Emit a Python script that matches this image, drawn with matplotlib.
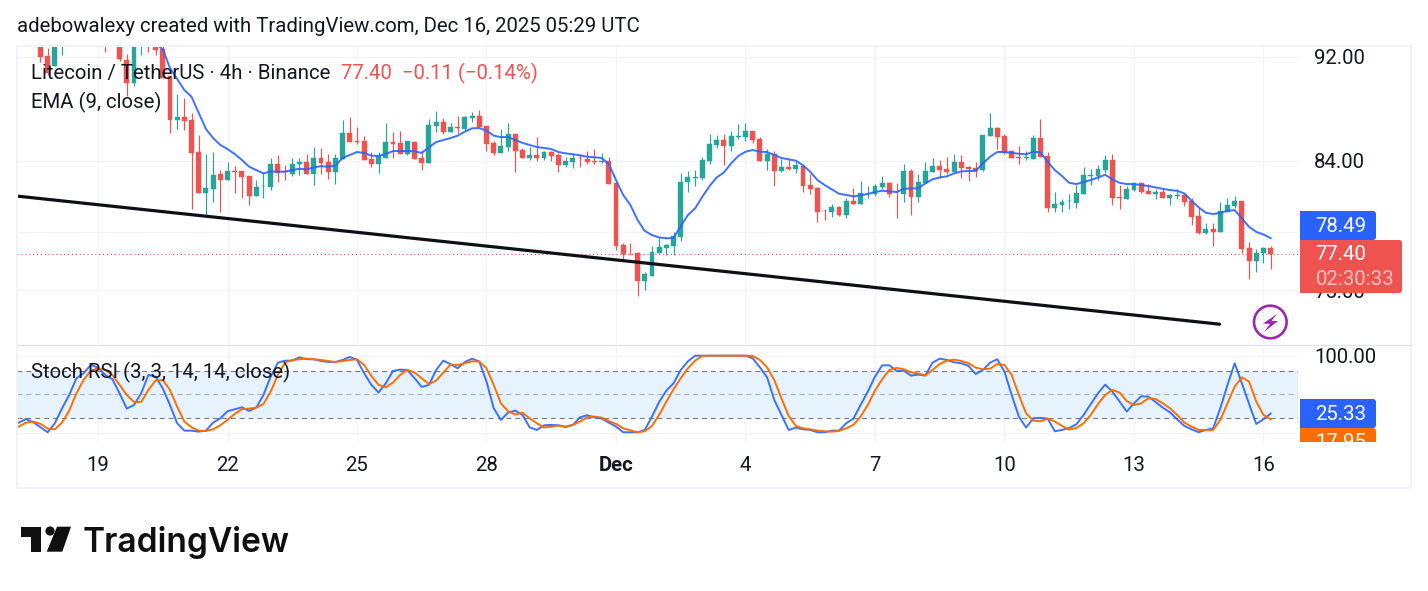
import numpy as np
import matplotlib
matplotlib.use("Agg")
import matplotlib.pyplot as plt
from matplotlib.patches import Rectangle, FancyBboxPatch, Polygon, Circle

plt.rcParams['font.family'] = ['Roboto', 'DejaVu Sans']

W, H = 1428, 591

# 4h candles, first bar is 8 bars before Nov 19 00:00
first_bar = -8
candle_open = [
    93.30, 92.04, 91.27, 93.20, 93.60, 93.90, 94.20, 94.10, 93.90, 93.80,
    93.60, 93.20, 91.72, 89.92, 92.95, 93.40, 93.00, 92.61, 90.45, 87.03,
    87.24, 87.03, 84.63, 81.67, 81.95, 83.01, 82.60, 83.23, 83.23, 82.87,
    81.45, 82.13, 82.10, 83.78, 83.20, 83.01, 83.72, 83.92, 83.01, 84.19,
    83.92, 83.16, 84.11, 86.04, 85.42, 85.44, 84.11, 83.72, 84.19, 85.37,
    85.30, 84.51, 85.37, 84.19, 83.81, 86.57, 86.88, 86.12, 86.50, 86.35,
    87.18, 87.34, 86.57, 85.30, 84.56, 85.00, 85.97, 84.78, 84.19, 84.41,
    84.19, 84.63, 84.41, 83.67, 83.89, 84.21, 84.11, 83.96, 83.92, 83.97,
    82.36, 78.01, 77.44, 77.47, 75.59, 75.93, 77.47, 77.80, 77.94, 78.56,
    82.44, 82.76, 82.73, 83.97, 85.15, 85.52, 85.08, 85.77, 85.74, 86.20,
    85.59, 83.97, 84.48, 83.23, 83.52, 83.37, 83.62, 82.22, 82.00, 80.39,
    80.30, 80.65, 80.09, 81.08, 80.87, 81.56, 81.58, 82.08, 82.36, 81.74,
    81.58, 83.23, 81.36, 82.36, 83.16, 83.59, 83.37, 83.16, 83.89, 83.52,
    83.45, 83.30, 85.82, 86.42, 85.82, 84.70, 84.26, 84.22, 84.11, 85.67,
    84.34, 80.58, 80.80, 81.06, 80.94, 81.58, 82.89, 82.87, 83.30, 84.04,
    81.36, 81.22, 81.86, 82.36, 81.79, 81.58, 81.72, 81.29, 81.46, 81.50,
    81.08, 80.02, 78.84, 79.11, 78.91, 80.30, 80.72, 81.08, 77.80, 76.93,
    77.47, 77.80,
]
candle_high = [
    94.00, 92.70, 94.00, 94.30, 94.40, 94.50, 94.60, 94.50, 94.40, 94.20,
    94.30, 93.80, 92.21, 93.70, 93.80, 93.80, 93.40, 93.20, 90.45, 89.00,
    88.72, 87.57, 85.90, 84.48, 84.60, 83.30, 83.89, 83.60, 83.23, 82.87,
    82.58, 83.08, 84.20, 84.42, 83.67, 84.20, 84.20, 84.48, 85.00, 84.93,
    84.48, 84.48, 87.03, 87.26, 86.50, 85.82, 84.63, 84.60, 86.80, 86.12,
    86.20, 85.44, 85.44, 84.78, 87.11, 87.72, 87.18, 86.80, 87.34, 87.34,
    87.65, 87.80, 86.57, 85.44, 86.35, 86.80, 85.97, 84.93, 85.00, 85.74,
    84.70, 84.70, 84.56, 84.26, 84.56, 84.48, 84.70, 84.85, 84.56, 84.26,
    82.44, 78.15, 78.15, 77.53, 76.19, 77.94, 78.49, 78.08, 78.91, 83.08,
    83.23, 83.30, 84.26, 85.97, 85.90, 85.97, 86.20, 86.73, 86.80, 86.20,
    85.74, 84.85, 84.70, 84.11, 84.11, 83.97, 83.62, 83.01, 82.08, 80.51,
    80.87, 80.72, 81.29, 82.00, 82.51, 82.15, 82.29, 82.87, 82.44, 82.36,
    83.74, 83.37, 83.01, 83.89, 84.19, 84.04, 84.26, 84.48, 84.41, 83.59,
    83.89, 85.90, 87.57, 86.50, 85.97, 84.78, 85.08, 84.70, 85.90, 87.11,
    84.63, 81.72, 81.22, 81.58, 82.22, 83.52, 83.37, 83.67, 84.41, 84.48,
    82.22, 82.15, 82.44, 82.44, 82.29, 81.93, 82.00, 81.58, 81.93, 81.58,
    81.29, 80.58, 79.53, 79.53, 81.01, 81.29, 81.43, 81.08, 78.22, 77.74,
    77.87, 77.94,
]
candle_low = [
    91.53, 90.50, 91.27, 92.13, 93.10, 93.40, 93.70, 93.60, 93.40, 92.37,
    93.00, 91.64, 88.90, 89.68, 92.12, 92.39, 92.12, 90.29, 86.07, 86.35,
    86.27, 80.53, 81.67, 80.09, 81.01, 80.32, 82.60, 81.67, 81.29, 80.80,
    81.45, 81.31, 81.86, 82.44, 82.58, 82.87, 82.94, 83.01, 82.22, 83.01,
    82.65, 82.29, 84.11, 85.39, 85.25, 84.06, 83.56, 83.10, 84.19, 84.19,
    84.51, 84.41, 84.14, 83.32, 83.81, 86.12, 85.97, 86.12, 86.04, 86.20,
    86.88, 86.50, 84.70, 84.41, 84.56, 84.70, 83.16, 84.19, 84.04, 83.97,
    84.04, 83.97, 83.16, 83.52, 83.45, 83.52, 83.74, 83.74, 83.82, 82.29,
    77.67, 76.93, 77.33, 74.61, 75.00, 75.93, 77.47, 77.33, 77.33, 78.29,
    81.72, 82.15, 82.58, 83.74, 84.93, 83.67, 84.70, 85.59, 85.44, 85.30,
    83.97, 83.30, 82.15, 83.16, 83.30, 83.08, 81.72, 81.58, 79.60, 79.74,
    79.95, 80.02, 79.88, 80.87, 80.87, 81.29, 81.43, 81.93, 81.36, 79.88,
    81.01, 80.09, 81.01, 82.36, 83.16, 82.73, 83.01, 83.16, 82.73, 82.51,
    82.80, 83.23, 85.82, 84.85, 84.48, 84.19, 83.74, 84.04, 84.11, 84.26,
    80.30, 80.30, 80.30, 80.51, 80.58, 81.58, 82.22, 82.58, 83.08, 80.80,
    80.51, 81.22, 81.79, 81.65, 81.58, 81.22, 81.29, 80.80, 81.22, 80.72,
    79.39, 78.77, 78.77, 77.94, 78.91, 80.30, 80.58, 77.47, 75.73, 76.19,
    76.80, 76.40,
]
candle_close = [
    92.00, 90.68, 93.60, 94.00, 93.40, 94.10, 93.90, 93.70, 93.50, 93.20,
    93.20, 91.78, 89.92, 93.40, 93.30, 93.00, 92.53, 90.31, 87.03, 87.24,
    86.98, 84.57, 81.67, 82.00, 82.97, 82.58, 83.23, 83.19, 82.80, 81.45,
    82.08, 82.17, 83.77, 83.10, 83.16, 83.77, 83.92, 83.01, 84.19, 83.82,
    83.16, 84.19, 86.04, 85.39, 85.38, 84.06, 83.72, 84.37, 85.37, 85.22,
    84.51, 85.44, 84.14, 83.81, 86.65, 86.88, 86.12, 86.50, 86.46, 87.26,
    87.34, 86.50, 85.22, 84.56, 85.08, 85.97, 84.70, 84.19, 84.41, 84.19,
    84.63, 84.34, 83.67, 83.97, 84.19, 84.17, 83.89, 83.92, 83.96, 82.29,
    77.94, 77.40, 77.40, 75.59, 76.06, 77.53, 77.87, 78.01, 78.63, 82.44,
    82.80, 82.80, 84.04, 85.22, 85.52, 85.08, 85.82, 85.81, 86.20, 85.52,
    83.97, 84.48, 83.23, 83.52, 83.37, 83.67, 82.15, 81.93, 80.30, 80.35,
    80.65, 80.09, 81.08, 80.87, 81.65, 81.60, 82.15, 82.36, 81.58, 81.70,
    83.23, 81.36, 82.44, 83.23, 83.59, 83.30, 83.16, 83.89, 83.45, 83.37,
    83.23, 85.90, 86.42, 85.74, 84.56, 84.19, 84.22, 84.26, 85.67, 84.26,
    80.61, 80.87, 81.01, 81.10, 81.65, 82.94, 82.93, 83.37, 84.04, 81.29,
    81.32, 81.93, 82.36, 81.72, 81.58, 81.72, 81.29, 81.50, 81.50, 81.01,
    79.95, 78.84, 79.11, 78.91, 80.37, 80.80, 81.08, 77.74, 76.93, 77.47,
    77.80, 77.40,
]

# EMA(9) starts where it comes into view
ema_first_bar = 8
ema_values = [
    93.00, 92.61, 91.08, 90.21, 89.34, 88.82, 87.57, 86.35, 85.67, 85.15,
    84.85, 84.48, 84.04, 83.55, 83.30, 83.06, 83.21, 83.18, 83.19, 83.30,
    83.40, 83.35, 83.50, 83.59, 83.55, 83.63, 84.19, 84.41, 84.63, 84.56,
    84.36, 84.34, 84.48, 84.70, 84.70, 84.70, 84.68, 84.56, 84.98, 85.37,
    85.52, 85.67, 85.85, 86.15, 86.40, 86.42, 86.22, 85.85, 85.74, 85.74,
    85.52, 85.31, 85.15, 85.00, 84.93, 84.85, 84.63, 84.53, 84.46, 84.38,
    84.28, 84.24, 84.19, 83.74, 82.58, 81.51, 80.80, 79.74, 78.99, 78.70,
    78.54, 78.48, 78.50, 79.32, 80.09, 80.56, 81.38, 82.15, 82.77, 83.13,
    83.79, 84.34, 84.65, 84.78, 84.65, 84.63, 84.41, 84.19, 84.09, 83.99,
    83.65, 83.18, 82.58, 82.22, 81.91, 81.60, 81.51, 81.41, 81.48, 81.58,
    81.72, 81.81, 81.77, 81.72, 81.95, 81.98, 81.98, 82.34, 82.63, 82.77,
    82.85, 83.06, 83.21, 83.23, 83.25, 83.79, 84.28, 84.63, 84.63, 84.57,
    84.50, 84.46, 84.65, 84.60, 83.91, 83.30, 82.87, 82.38, 82.29, 82.44,
    82.58, 82.77, 82.96, 82.63, 82.38, 82.29, 82.29, 82.22, 82.15, 82.05,
    81.95, 81.86, 81.81, 81.62, 81.10, 80.63, 80.25, 80.16, 80.25, 80.39,
    80.44, 79.86, 79.27, 78.92, 78.74, 78.49,
]

# Stoch RSI, both lines run over the whole visible range
stoch_first_bar = -11
stoch_k = [
    13.7, 18.4, 14.1, 7.6, 1.2, 12.8, 32.1, 49.3, 70.9, 77.3,
    88.0, 84.6, 75.2, 69.6, 51.5, 31.7, 36.4, 51.5, 75.2, 73.0,
    57.9, 36.4, 12.8, 3.3, 3.3, 2.0, 3.3, 13.7, 19.2, 28.3,
    30.9, 33.4, 28.7, 33.0, 49.3, 73.0, 91.0, 93.6, 93.6, 97.9,
    95.4, 95.4, 93.2, 91.9, 91.9, 94.5, 98.4, 94.5, 77.3, 62.3,
    52.4, 64.4, 80.3, 82.0, 81.6, 70.9, 59.7, 62.3, 81.6, 93.6,
    88.9, 83.8, 91.9, 96.2, 92.4, 66.6, 32.2, 17.1, 26.6, 29.1,
    23.6, 7.6, 4.2, 10.2, 10.7, 10.2, 8.0, 10.7, 20.5, 23.1,
    20.5, 18.8, 13.7, 8.5, 1.2, 1.2, 1.2, 4.2, 21.4, 40.3,
    54.9, 64.4, 81.6, 92.8, 100.0, 100.0, 100.0, 100.0, 100.0, 100.0,
    100.0, 100.0, 96.6, 85.0, 72.1, 42.9, 23.6, 4.2, 7.2, 5.0,
    4.2, 1.2, 1.2, 3.3, 3.3, 12.8, 18.8, 36.4, 53.6, 73.0,
    87.6, 87.6, 80.3, 80.7, 74.3, 75.6, 74.3, 91.0, 96.2, 94.5,
    91.5, 90.2, 86.8, 76.4, 81.6, 91.0, 95.4, 79.4, 49.3, 21.4,
    7.2, 19.2, 19.7, 18.8, 2.5, 4.2, 6.8, 11.5, 23.6, 37.7,
    51.5, 62.7, 53.6, 40.7, 27.9, 38.6, 47.6, 47.2, 40.3, 33.0,
    27.0, 18.0, 9.4, 5.0, 1.2, 4.2, 6.3, 32.2, 62.3, 90.2,
    64.4, 37.7, 11.9, 18.0, 25.33,
]
stoch_d = [
    8.5, 13.7, 15.0, 12.0, 5.9, 5.0, 13.7, 29.1, 51.5, 68.7,
    80.7, 83.8, 81.6, 75.2, 62.3, 49.3, 40.3, 40.3, 55.8, 67.8,
    68.7, 55.8, 34.3, 15.0, 7.6, 3.3, 2.9, 5.0, 10.2, 17.1,
    24.8, 30.9, 31.7, 33.0, 37.7, 53.6, 75.2, 91.0, 94.5, 95.4,
    96.2, 95.4, 94.5, 93.2, 91.9, 93.2, 94.5, 95.4, 88.0, 73.9,
    62.3, 59.2, 65.3, 75.2, 81.6, 78.2, 70.9, 63.5, 67.8, 78.2,
    88.5, 88.0, 90.2, 92.8, 92.4, 83.8, 62.3, 38.6, 28.3, 24.0,
    26.6, 19.2, 12.8, 7.2, 8.5, 9.8, 8.5, 10.7, 15.0, 20.5,
    21.4, 20.1, 15.8, 12.0, 6.3, 3.8, 1.2, 2.5, 9.4, 23.6,
    40.7, 56.7, 70.9, 83.8, 93.6, 99.7, 100.0, 100.0, 100.0, 100.0,
    100.0, 100.0, 99.7, 94.5, 85.0, 68.7, 45.0, 22.3, 9.4, 6.3,
    5.0, 3.3, 2.5, 2.0, 2.9, 6.3, 10.7, 21.4, 36.4, 54.9,
    69.6, 81.6, 84.2, 82.5, 78.6, 76.9, 74.7, 81.6, 89.3, 93.6,
    94.9, 93.2, 90.2, 84.6, 82.5, 83.3, 89.3, 88.0, 75.2, 49.3,
    25.7, 16.2, 15.4, 18.8, 15.0, 9.4, 4.6, 6.8, 12.8, 23.6,
    37.7, 49.3, 55.8, 52.4, 41.6, 36.4, 38.6, 45.0, 44.2, 38.6,
    32.2, 23.6, 13.7, 8.5, 4.2, 4.2, 4.2, 17.1, 38.6, 60.1,
    72.1, 66.6, 40.7, 23.6, 17.95,
]

# hand drawn trend line, bar number and price at each end
trend_bars = [-11.26, 155.9]
trend_prices = [81.43, 72.80]

last_price = 77.40
ema_last = 78.49
k_last = 25.33
d_last = 17.95

price_ticks = [92.0, 84.0, 78.9, 75.0]
price_tick_labels = ['92.00', '84.00', '', '75.00']
date_ticks = [0, 18, 36, 54, 72, 90, 108, 126, 144, 162]
date_labels = ['19', '22', '25', '28', 'Dec', '4', '7', '10', '13', '16']

UP = '#26a69a'
DOWN = '#ef5350'
BLUE = '#2962ff'
ORANGE = '#ff6d00'
INK = '#131722'
GRID = '#f3f4f7'
FS = 14.65


def pane(left, top, right, bottom):
    # axes placed by pixel box
    return fig.add_axes([left / W, 1 - bottom / H, (right - left) / W, (bottom - top) / H])


fig = plt.figure(figsize=(W / 100, H / 100), dpi=100, facecolor='white')

############################################################################################
# price pane
############################################################################################
ax = pane(17, 46, 1298, 344)
ax.set_yscale('log')
ax.set_xlim(-11.26, 166.8)
ax.set_ylim(71.55, 92.85)

bars = np.arange(len(candle_open)) + first_bar
opens = np.array(candle_open)
closes = np.array(candle_close)
colors = [UP if c >= o else DOWN for o, c in zip(opens, closes)]

ax.vlines(bars, candle_low, candle_high, colors=colors, linewidth=0.85, zorder=3)
ax.bar(bars, np.abs(closes - opens), bottom=np.minimum(opens, closes), width=0.68,
       color=colors, edgecolor=colors, linewidth=0.3, zorder=4)

ema_bars = np.arange(len(ema_values)) + ema_first_bar
ax.plot(ema_bars, ema_values, color=BLUE, linewidth=1.4, alpha=0.9, zorder=5)
ax.plot(trend_bars, trend_prices, color='#0e1016', linewidth=2.3, solid_capstyle='round', zorder=6)
ax.axhline(last_price, color=DOWN, linewidth=0.8, linestyle=(0, (1, 2.5)), zorder=2)

ax.set_yticks(price_ticks)
ax.set_yticklabels(price_tick_labels, fontsize=FS, color=INK)
ax.minorticks_off()
ax.yaxis.tick_right()
ax.set_xticks(date_ticks)
ax.tick_params(axis='x', labelbottom=False, length=0)
ax.tick_params(axis='y', length=0, pad=11.5)
ax.grid(True, color=GRID, linewidth=0.9)
ax.set_axisbelow(True)
for s in ax.spines.values():
    s.set_visible(False)

############################################################################################
# stoch rsi pane
############################################################################################
ax2 = pane(17, 345, 1298, 441.7)
ax2.set_xlim(-11.26, 166.8)
ax2.set_ylim(-10.97, 113.8)

ax2.axhspan(20, 80, color='#e6f3fd', linewidth=0, zorder=1)
ax2.axhline(80, color='#787b86', linewidth=0.8, linestyle=(0, (4.5, 3.5)), zorder=2)
ax2.axhline(50, color='#787b86', linewidth=0.8, linestyle=(0, (4.5, 3.5)), alpha=0.55, zorder=2)
ax2.axhline(20, color='#787b86', linewidth=0.8, linestyle=(0, (4.5, 3.5)), zorder=2)

stoch_bars = np.arange(len(stoch_k)) + stoch_first_bar
ax2.plot(stoch_bars, stoch_k, color=BLUE, linewidth=1.4, alpha=0.9, zorder=3)
ax2.plot(stoch_bars, stoch_d, color=ORANGE, linewidth=1.4, zorder=4)

ax2.set_yticks([0, 100])
ax2.set_yticklabels(['', '100.00'], fontsize=FS, color=INK)
ax2.yaxis.tick_right()
ax2.set_xticks(date_ticks)
ax2.set_xticklabels(date_labels, fontsize=FS, color=INK)
ax2.get_xticklabels()[4].set_fontweight('bold')
ax2.tick_params(axis='x', length=0, pad=10)
ax2.tick_params(axis='y', length=0, pad=11.5)
ax2.grid(True, color=GRID, linewidth=0.9)
ax2.set_axisbelow(True)
for s in ax2.spines.values():
    s.set_visible(False)

############################################################################################
# labels, price badges, frame and logo drawn in pixel space
############################################################################################
top = fig.add_axes([0, 0, 1, 1], zorder=10)
top.set_xlim(0, W)
top.set_ylim(H, 0)
top.axis('off')

top.add_patch(Rectangle((17, 46), 1394, 442, fill=False, edgecolor='#f0f3fa', linewidth=1.5))
top.plot([17, 1411], [344.5, 344.5], color='#e0e3eb', linewidth=0.9)

top.text(17, 27, 'adebowalexy created with TradingView.com, Dec 16, 2025 05:29 UTC',
         fontsize=FS, color=INK, va='center')
top.text(31, 73, 'Litecoin / TetherUS · 4h · Binance', fontsize=FS, color=INK, va='center')
top.text(341, 73, f'{last_price:.2f}  \u22120.11 (\u22120.14%)', fontsize=FS, color=DOWN, va='center')
top.text(31, 102, 'EMA (9, close)', fontsize=FS, color=INK, va='center')
top.text(31, 372, 'Stoch RSI (3, 3, 14, 14, close)', fontsize=FS, color=INK, va='center')


def badge(x0, y0, x1, y1, color, clip=None):
    box = FancyBboxPatch((x0 + 3, y0), x1 - x0 - 3, y1 - y0, boxstyle='round,pad=0,rounding_size=3',
                         facecolor=color, edgecolor='none')
    top.add_patch(box)
    left = Rectangle((x0, y0), 6, y1 - y0, facecolor=color, edgecolor='none')
    top.add_patch(left)
    if clip is not None:
        box.set_clip_path(clip)
        left.set_clip_path(clip)


badge(1300, 211, 1376, 240, BLUE)
top.text(1315.5, 226, f'{ema_last:.2f}', fontsize=FS, color='white', va='center')
badge(1300, 240, 1402, 293, DOWN)
top.text(1315.5, 255, f'{last_price:.2f}', fontsize=FS, color='white', va='center')
top.text(1315.5, 279.5, '02:30:33', fontsize=FS, color='white', alpha=0.65, va='center')

badge(1300, 399, 1376, 428, BLUE)
top.text(1315.5, 414, f'{k_last:.2f}', fontsize=FS, color='white', va='center')
# the lower badge is cut by the bottom of the pane
cut = Rectangle((1300, 428), 76, 13.7, transform=top.transData)
badge(1300, 428, 1376, 457, ORANGE, clip=cut)
d_text = top.text(1315.5, 443, f'{d_last:.2f}', fontsize=FS, color='white', va='center')
d_text.set_clip_path(cut)

# lightning button
top.add_patch(Circle((1270.3, 322), 16.3, fill=False, edgecolor='#9c27b0', linewidth=1.9))
top.add_patch(Polygon([(1277, 314), (1263, 323.5), (1270, 324), (1264, 332),
                       (1278, 321), (1271.5, 320.8)], closed=True, facecolor='#9c27b0', edgecolor='none'))

# logo mark and wordmark
top.add_patch(Polygon([(20.7, 526.7), (40.7, 526.7), (40.7, 551.7), (30.7, 551.7),
                       (30.7, 536.7), (20.7, 536.7)], closed=True, facecolor='#0f0f0f', edgecolor='none'))
top.add_patch(Circle((50, 531), 4.6, facecolor='#0f0f0f', edgecolor='none'))
top.add_patch(Polygon([(57, 526.7), (71, 526.7), (62.3, 551.7), (46.7, 551.7)], closed=True,
                      facecolor='#0f0f0f', edgecolor='none'))
top.text(83, 552, 'TradingView', fontsize=24.15, fontfamily='Inter', fontweight='semibold',
         color='#0f0f0f', va='baseline')

fig.savefig('out.png', dpi=100)
